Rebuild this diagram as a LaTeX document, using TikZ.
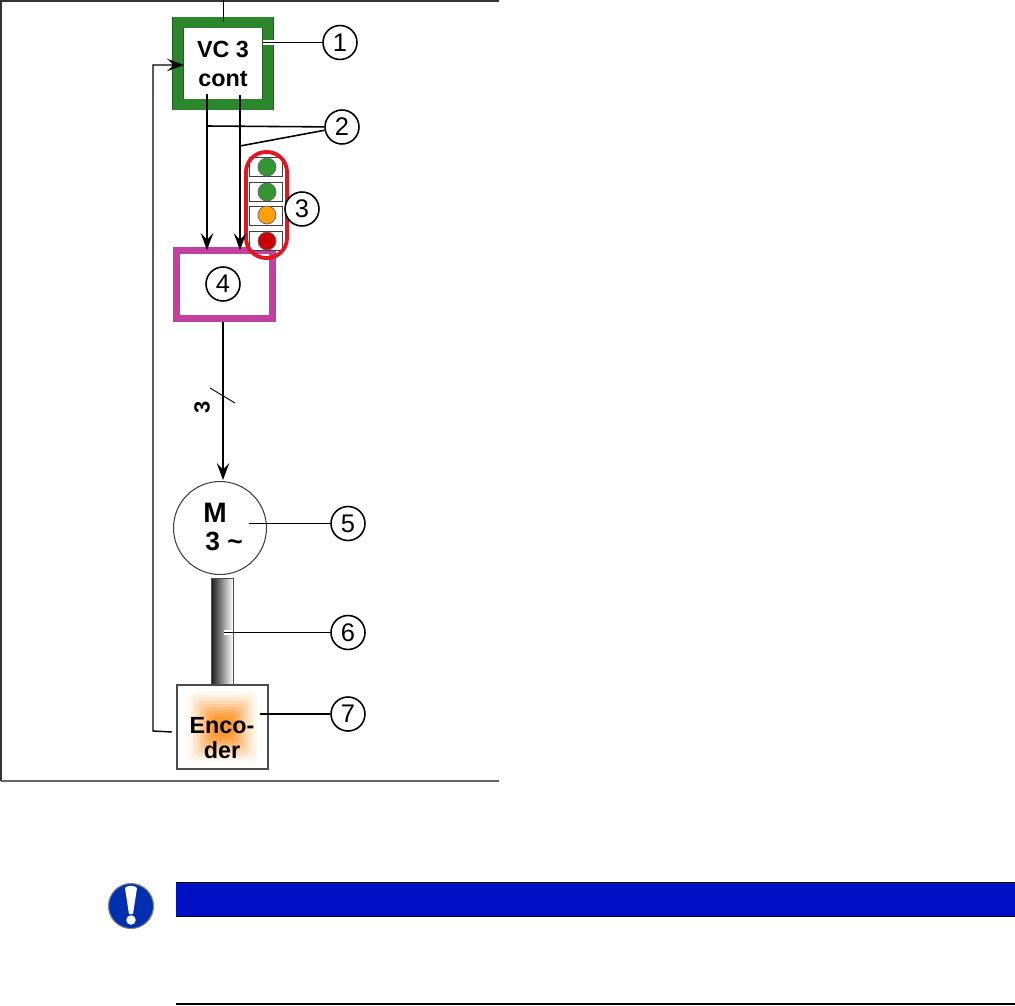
\documentclass[tikz,border=0pt]{standalone}
\usepackage{xcolor}
\usepackage{fontspec}
\setmainfont{Liberation Sans}
\usetikzlibrary{arrows.meta,calc}
\definecolor{ctrlgreen}{RGB}{44,134,44}
\definecolor{drivepink}{RGB}{196,64,160}
\definecolor{bandblue}{RGB}{0,16,196}
\definecolor{iconblue}{RGB}{0,48,176}
\definecolor{ledgreen}{RGB}{50,150,50}
\definecolor{ledorange}{RGB}{255,160,10}
\definecolor{ledred}{RGB}{205,0,10}
\definecolor{ovalred}{RGB}{228,20,32}
\begin{document}
\begin{tikzpicture}[
  x=0.02cm, y=-0.02cm,
  callout/.style={circle, draw, fill=white, line width=0.9pt, minimum size=0.68cm,
                  inner sep=0pt, font=\fontsize{14.5}{16}\selectfont},
  leader/.style={line width=0.9pt},
  arrow/.style={-{Stealth[length=0.34cm, width=0.25cm, inset=0.13cm]}, line width=0.8pt},
  ctrlbox/.style={rectangle, draw=ctrlgreen!70!black, double=ctrlgreen, line width=0.3pt,
                  double distance=5.9pt, fill=white, minimum width=1.8cm, minimum height=1.64cm,
                  inner sep=0pt, align=center, font=\fontsize{13.3}{16.5}\selectfont\bfseries},
  drivebox/.style={rectangle, draw=drivepink!40!black, double=drivepink, line width=0.4pt,
                   double distance=3.6pt, fill=white, minimum width=1.92cm, minimum height=1.36cm},
  ledbox/.style={rectangle, draw=black!75, fill=white, line width=0.5pt,
                 minimum width=0.66cm, minimum height=0.38cm},
  led/.style={circle, draw=black!60, line width=0.4pt, fill=#1, minimum size=0.36cm, inner sep=0pt}
]
  \useasboundingbox (0,0) rectangle (1015,1005);
  % frame of the upper part
  \draw[line width=1.2pt, black!80] (499,0.5) -- (1,0.5) -- (1,781);
  \draw[line width=0.8pt, black!60] (1,781) -- (499,781);
  % controller
  \node[ctrlbox] (vc) at (223,63.5) {VC 3\\cont};
  \coordinate (supply) at (223,0);
  \draw[line width=0.5pt] (supply) -- (vc.north);
  % drive
  \node[drivebox] (drive) at (224.5,284.5) {};
  % status lights
  \node[ledbox] (boxa) at (265.5,167) {};
  \node[ledbox] (boxb) at (265.5,191.5) {};
  \node[ledbox] (boxc) at (265.5,215.5) {};
  \node[ledbox] (boxd) at (265.5,240.5) {};
  \node[led=ledgreen] (leda) at (267,167) {};
  \node[led=ledgreen] (ledb) at (267,192) {};
  \node[led=ledorange] (ledc) at (267,215) {};
  \node[led=ledred] (ledd) at (267,241) {};
  \node[draw=ovalred, line width=2.2pt, rectangle, rounded corners=0.4cm,
        minimum width=0.82cm, minimum height=2.12cm] (lights) at (266.5,205) {};
  % motor, shaft and encoder
  \node[circle, draw=black!75, line width=0.6pt, minimum size=1.86cm, inner sep=0pt] (motor) at (220,528) {};
  \node[font=\fontsize{16}{18}\selectfont\bfseries] (mlabel) at (215,513) {M};
  \node[font=\fontsize{15}{16}\selectfont\bfseries] (mphase) at (224,541) {3 \textasciitilde};
  \node[rectangle, draw=black!70, line width=0.5pt, left color=black!90, right color=white,
        minimum width=0.44cm, minimum height=2.14cm, inner sep=0pt] (shaft) at (222,631.5) {};
  \node[rectangle, draw=black!70, fill=white, line width=0.6pt, minimum width=1.82cm,
        minimum height=1.68cm, inner sep=0pt] (encoder) at (222.5,727) {};
  \foreach \c/\d in {6/0,12/3,20/6,30/9,40/12,50/15,60/18,70/21,78/24}
    \fill[orange!\c!white, rounded corners=0.12cm] (188+\d,692+\d) rectangle (257-\d,762-\d);
  \node[align=center, font=\fontsize{13.3}{14.3}\selectfont\bfseries] (enctext) at (222,738) {Enco-\\der};
  % connectors
  \coordinate (outa) at (207,94);
  \coordinate (outb) at (240,95);
  \coordinate (feedin) at (184,65);
  \coordinate (feedout) at (172,732);
  \coordinate (driveout) at (223,322);
  \coordinate (motorin) at (223,480);
  \draw[arrow] (outa) -- (outa |- drive.north);
  \draw[arrow] (outb) -- (outb |- drive.north);
  \draw[arrow] (driveout) -- (motorin);
  \draw[arrow] (feedout) -- (153,731) -- (153,65) -- (feedin);
  \coordinate (slasha) at (210,388);
  \coordinate (slashb) at (235,403);
  \draw[line width=0.5pt] (slasha) -- (slashb);
  \node[rotate=90, font=\fontsize{12.5}{14}\selectfont\bfseries] (phases) at (202,407) {3};
  % callouts
  \node[callout] (one) at (340,42.5) {1};
  \node[callout] (two) at (342,127) {2};
  \node[callout] (three) at (302,209) {3};
  \node[callout] (four) at (223,284) {4};
  \node[callout] (five) at (348,523.5) {5};
  \node[callout] (six) at (348,632.5) {6};
  \node[callout] (seven) at (348,714) {7};
  \coordinate (onefoot) at (263,42.5);
  \coordinate (twofoota) at (207,126);
  \coordinate (twofootb) at (240,146);
  \coordinate (fivefoot) at (249,523.5);
  \coordinate (sixfoot) at (224,632.5);
  \coordinate (sevenfoot) at (260,714);
  \draw[white, line width=2.4pt] (onefoot) -- ++(11,0);
  \draw[white, line width=2.4pt] (sixfoot) -- ++(9,0);
  \draw[leader] (onefoot) -- (one);
  \draw[leader] (twofoota) -- (two);
  \draw[leader] (twofootb) -- (two);
  \draw[leader] (fivefoot) -- (five);
  \draw[leader] (sixfoot) -- (six);
  \draw[leader] (sevenfoot) -- (seven);
  % notice
  \node[circle, draw=black!50, line width=0.6pt, fill=iconblue, minimum size=0.9cm, inner sep=0pt] (icon) at (131,906) {};
  \fill[white] (125,888) .. controls (127,885) and (135,885) .. (137,888) -- (133,914) -- (129,914) -- cycle;
  \node[circle, fill=white, minimum size=0.19cm, inner sep=0pt] (icondot) at (131,920) {};
  \node[rectangle, fill=bandblue, minimum width=16.78cm, minimum height=0.66cm, inner sep=0pt] (band) at (595.5,899.5) {};
  \draw[line width=0.8pt] (band.north west) -- (band.north east);
  \draw[line width=0.8pt] (band.south west) -- (band.south east);
  \coordinate (rulea) at (176,1004);
  \coordinate (ruleb) at (1015,1004);
  \draw[line width=0.7pt] (rulea) -- (ruleb);
\end{tikzpicture}
\end{document}
